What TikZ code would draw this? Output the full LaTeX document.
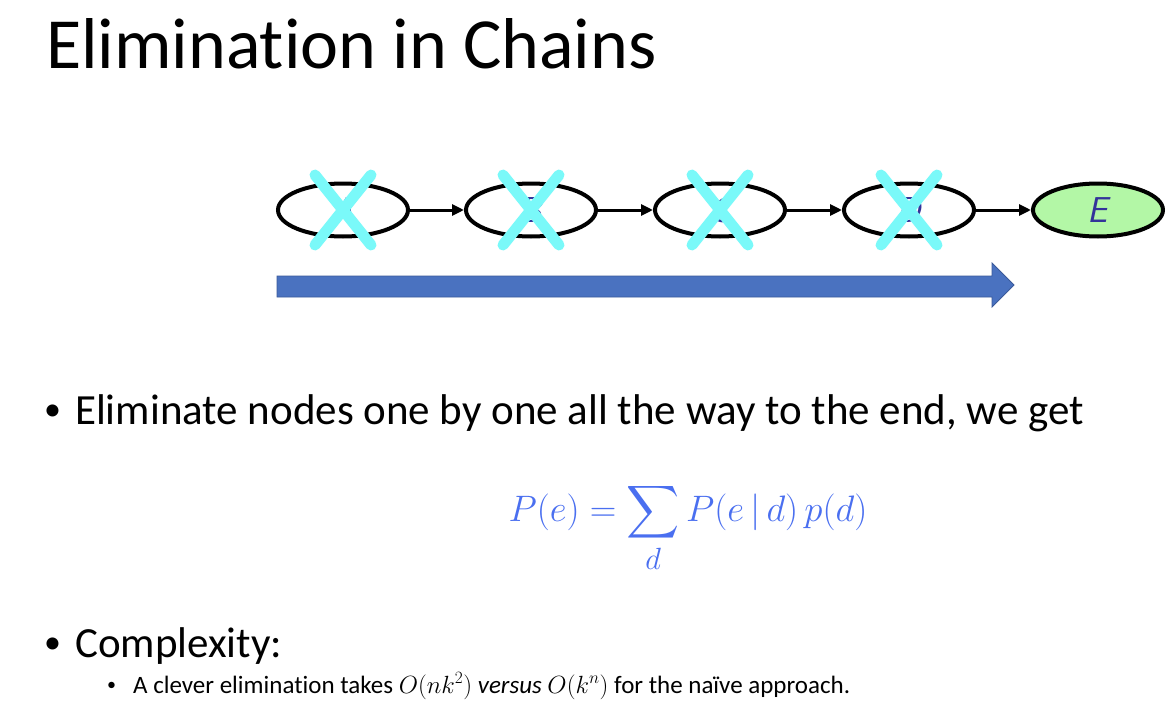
\documentclass[tikz,border=0pt]{standalone}
\usepackage{amsmath}
\usepackage{fontspec}
\setmainfont{Carlito}[Ligatures=NoCommon]
\definecolor{crosscyan}{HTML}{7AF9F9}
\definecolor{nodegreen}{HTML}{B3F7A6}
\definecolor{letterblue}{HTML}{33339A}
\definecolor{bandblue}{HTML}{4A72C0}
\definecolor{bandedge}{HTML}{3A5A9A}
\definecolor{formulablue}{HTML}{4A6FF0}
\usetikzlibrary{arrows.meta,positioning,shapes.geometric}
\newcommand{\slidebullet}[2]{\raisebox{#2}{\fontsize{#1}{#1}\selectfont\textbullet}}

\begin{document}
\begin{tikzpicture}[x=1pt,y=-1pt,
  chainnode/.style={ellipse,draw=black,line width=4pt,minimum width=130pt,minimum height=53pt,
    inner sep=0pt,font=\sffamily\itshape\fontsize{36}{36}\selectfont,text=letterblue},
  chainarrow/.style={line width=3pt,-{Triangle[length=12pt,width=11pt]}},
  crossmark/.style={crosscyan,line width=11pt,line cap=round}]
  \useasboundingbox[fill=white] (0,0) rectangle (1176,728);

  % Title
  \node[anchor=base west,inner sep=0pt,font=\fontsize{72}{72}\selectfont] (title) at (46,68) {Elimination in Chains};

  % Chain
  \node[chainnode] (a) at (343,210) {A};
  \node[chainnode] (b) at (531,210) {B};
  \node[chainnode] (c) at (720,210) {C};
  \node[chainnode] (d) at (909,210) {D};
  \node[chainnode,fill=nodegreen] (e) at (1098,210) {E};
  \draw[chainarrow] (a) -- (b);
  \draw[chainarrow] (b) -- (c);
  \draw[chainarrow] (c) -- (d);
  \draw[chainarrow] (d) -- (e);

  % Crosses
  \foreach \n in {a,b,c,d} {
    \draw[crossmark] ([shift={(-28pt,35pt)}]\n.center) -- ([shift={(28pt,-35pt)}]\n.center);
    \draw[crossmark] ([shift={(-28pt,-35pt)}]\n.center) -- ([shift={(28pt,35pt)}]\n.center);
  }

  % Direction band
  \fill[bandblue,draw=bandedge,line width=0.8pt]
    (277,276) -- (992,276) -- (992,263) -- (1014,285) -- (992,307) -- (992,297) -- (277,297) -- cycle;

  % Bullets
  \node[anchor=base west,inner sep=0pt,font=\fontsize{43}{43}\selectfont] (bullet1) at (44,424)
    {\slidebullet{34}{4pt}\hspace{14pt}Eliminate nodes one by one all the way to the end, we get};
  \node[inner sep=0pt,text=formulablue,scale=1.48,font=\fontsize{24.88}{24.88}\selectfont] (formula) at (688,528)
    {$\displaystyle P(e)=\sum_{d} P(e\,|\,d)\,p(d)$};
  \node[anchor=base west,inner sep=0pt,font=\fontsize{43}{43}\selectfont] (bullet2) at (44,657)
    {\slidebullet{34}{4pt}\hspace{14pt}Complexity:};
  \node[anchor=base west,inner sep=0pt,font=\fontsize{25}{25}\selectfont] (bullet3) at (107,693)
    {\slidebullet{18}{3pt}\hspace{17pt}A clever elimination takes $O(nk^2)$ \textit{versus} $O(k^n)$ for the naïve approach.};
\end{tikzpicture}
\end{document}
